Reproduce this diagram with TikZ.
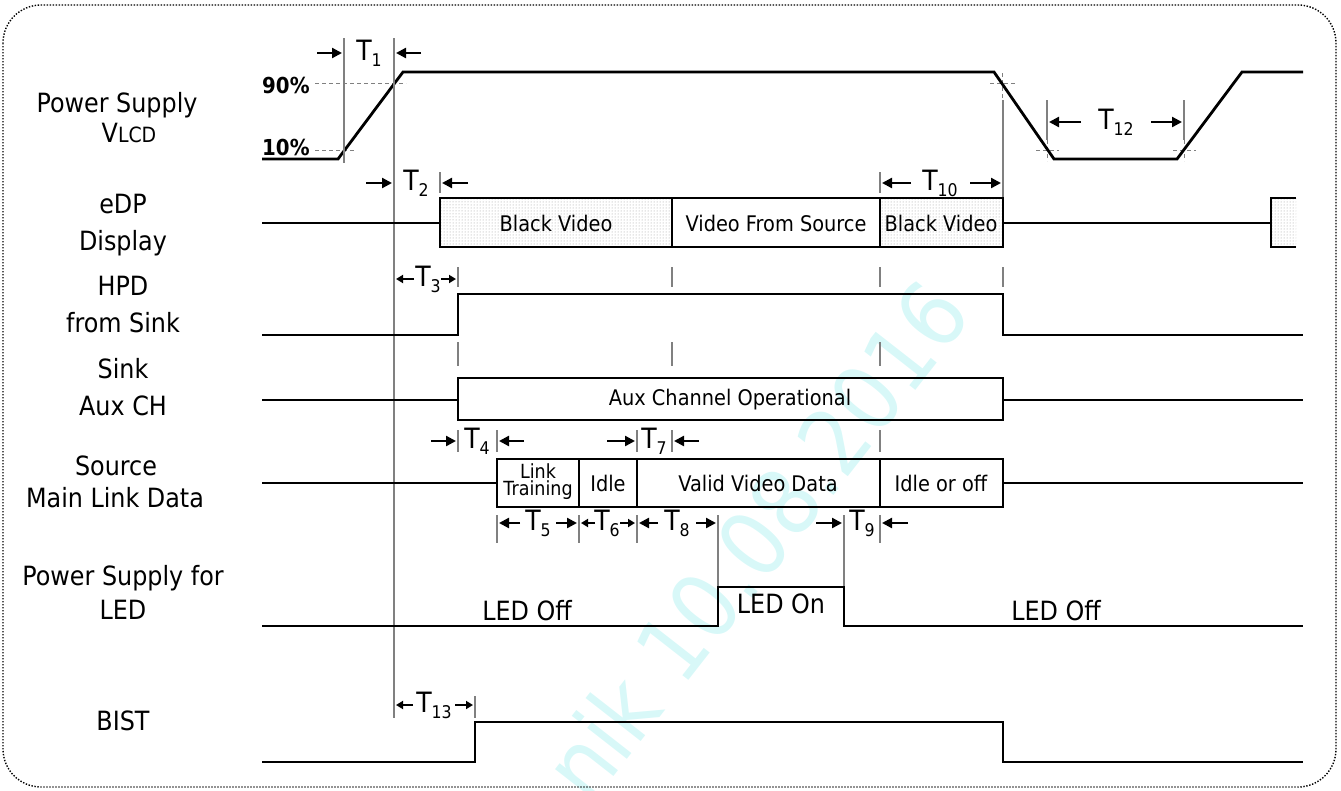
\documentclass[tikz,border=0pt]{standalone}
\usepackage{fontspec}
\setmainfont{DejaVu Sans}[FakeStretch=0.9]
\usetikzlibrary{arrows.meta,patterns}
\definecolor{wmcyan}{RGB}{216,248,248}
\newcommand{\tsub}[1]{T\raisebox{-6pt}{\fontsize{17.5}{17.5}\selectfont #1}}

\begin{document}
\begin{tikzpicture}[x=1pt,y=-1pt,
  sig/.style={line width=2.8pt},
  guide/.style={line width=1.1pt, black!50},
  pct/.style={line width=1pt, black!50, dash pattern=on 4pt off 3pt},
  dimarr/.style={line width=2.3pt, -{Triangle[length=10pt,width=10pt]}},
  minarr/.style={line width=1.9pt, -{Triangle[length=7pt,width=8pt]}},
  lbl/.style={font=\fontsize{26.5}{30}\selectfont, anchor=base},
  boxtxt/.style={font=\fontsize{21.5}{24}\selectfont},
  tlbl/.style={font=\fontsize{28}{30}\selectfont, anchor=base, inner sep=0pt},
  blackvid/.style={pattern=dots, pattern color=black!40}]
  \useasboundingbox (0,0) rectangle (1341,790);

  % Watermark
  \node[rotate=52, text=wmcyan, font=\fontsize{92}{92}\selectfont] (wmark) at (755,540) {nik 10.08.2016};

  % Frame
  \draw[line width=1.4pt, dash pattern=on 1.4pt off 1.6pt, rounded corners=38pt] (3,5) rectangle (1336,787);

  % Signal names
  \node[lbl] (lPs) at (117,112) {Power Supply};
  \node[lbl] (lVlcd) at (129,142) {V{\fontsize{21}{21}\selectfont LCD}};
  \node[lbl] (lEdp) at (123,213) {eDP};
  \node[lbl] (lDisp) at (123,250) {Display};
  \node[lbl] (lHpd) at (123,295) {HPD};
  \node[lbl] (lFrom) at (123,332) {from Sink};
  \node[lbl] (lSink) at (123,378) {Sink};
  \node[lbl] (lAux) at (123,415) {Aux CH};
  \node[lbl] (lSrc) at (116,475) {Source};
  \node[lbl] (lMain) at (115,507) {Main Link Data};
  \node[lbl] (lPsf) at (123,585) {Power Supply for};
  \node[lbl] (lLed) at (123,619) {LED};
  \node[lbl] (lBist) at (123,730) {BIST};

  % Power supply VLCD
  \node[font=\bfseries\fontsize{22}{22}\selectfont, anchor=base west, inner sep=0pt] (p90) at (262,93) {90\%};
  \node[font=\bfseries\fontsize{22}{22}\selectfont, anchor=base west, inner sep=0pt] (p10) at (262,155) {10\%};
  \draw[pct] (315,83) -- (406,83);
  \draw[pct] (315,150) -- (356,150);
  \draw[pct] (990,83) -- (1015,83);
  \draw[pct] (1002,73) -- (1002,100);
  \draw[pct] (1036,150) -- (1059,150);
  \draw[pct] (1047,140) -- (1047,161);
  \draw[pct] (1173,150) -- (1196,150);
  \draw[pct] (1184,140) -- (1184,161);
  \draw[sig] (262,159) -- (338,159) -- (403,72) -- (994,72) -- (1054,159)
    -- (1177,159) -- (1242,72) -- (1303,72);

  % Guide lines
  \draw[guide] (344,38) -- (344,163);
  \draw[guide] (394,38) -- (394,718);
  \draw[guide] (1003,100) -- (1003,198);
  \draw[guide] (1047,100) -- (1047,140);
  \draw[guide] (1184,100) -- (1184,140);
  \foreach \x in {440,880} \draw[guide] (\x,172) -- (\x,193);
  \foreach \x in {458,672,880,1003} \draw[guide] (\x,267) -- (\x,287);
  \foreach \x in {458,672,880} \draw[guide] (\x,342) -- (\x,366);
  \foreach \x in {458,497,637,672,880} \draw[guide] (\x,430) -- (\x,452);
  \foreach \x in {497,579,637,880} \draw[guide] (\x,515) -- (\x,543);
  \draw[guide] (718,515) -- (718,587);
  \draw[guide] (844,515) -- (844,587);
  \draw[guide] (475,696) -- (475,718);

  % eDP display
  \fill[blackvid] (440,198) rectangle (672,247);
  \fill[blackvid] (880,198) rectangle (1003,247);
  \fill[blackvid] (1271,198) rectangle (1296,247);
  \draw[sig] (262,223) -- (440,223);
  \draw[sig] (440,198) rectangle (1003,247);
  \draw[sig] (672,198) -- (672,247);
  \draw[sig] (880,198) -- (880,247);
  \draw[sig] (1003,223) -- (1271,223);
  \draw[sig] (1296,198) -- (1271,198) -- (1271,247) -- (1296,247);
  \node[boxtxt] (bv1) at (556,223) {Black Video};
  \node[boxtxt] (vfs) at (776,223) {Video From Source};
  \node[boxtxt] (bv2) at (941,223) {Black Video};

  % HPD from sink
  \draw[sig] (262,335) -- (458,335) -- (458,294) -- (1003,294) -- (1003,335) -- (1303,335);

  % Sink aux channel
  \draw[sig] (262,400) -- (458,400);
  \draw[sig] (458,378) rectangle (1003,420);
  \draw[sig] (1003,400) -- (1303,400);
  \node[boxtxt] (auxop) at (730,400) {Aux Channel Operational};

  % Source main link data
  \draw[sig] (262,483) -- (497,483);
  \draw[sig] (497,459) rectangle (1003,507);
  \foreach \x in {579,637,880} \draw[sig] (\x,459) -- (\x,507);
  \draw[sig] (1003,483) -- (1303,483);
  \node[align=center, font=\fontsize{19.5}{17}\selectfont] (ltrain) at (538,482) {Link\\Training};
  \node[boxtxt] (idle) at (608,483) {Idle};
  \node[boxtxt] (vvd) at (758,483) {Valid Video Data};
  \node[boxtxt] (idleoff) at (941,483) {Idle or off};

  % Power supply for LED
  \draw[sig] (262,626) -- (718,626) -- (718,587) -- (844,587) -- (844,626) -- (1303,626);
  \node[lbl] (ledoff1) at (527,620) {LED Off};
  \node[lbl] (ledon) at (781,613) {LED On};
  \node[lbl] (ledoff2) at (1056,620) {LED Off};

  % BIST
  \draw[sig] (262,762) -- (475,762) -- (475,722) -- (1003,722) -- (1003,762) -- (1303,762);

  % Timing marks
  \draw[dimarr] (317,53) -- (342,53);
  \draw[dimarr] (421,53) -- (396,53);
  \node[tlbl] (t1) at (369,60) {\tsub{1}};
  \draw[dimarr] (366,183) -- (392,183);
  \draw[dimarr] (468,183) -- (442,183);
  \node[tlbl] (t2) at (416,190) {\tsub{2}};
  \draw[dimarr] (911,183) -- (882,183);
  \draw[dimarr] (970,183) -- (1001,183);
  \node[tlbl] (t10) at (940,190) {\tsub{10}};
  \draw[dimarr] (1081,122) -- (1049,122);
  \draw[dimarr] (1151,122) -- (1182,122);
  \node[tlbl] (t12) at (1116,129) {\tsub{12}};
  \draw[minarr] (414,279) -- (396,279);
  \draw[minarr] (441,279) -- (456,279);
  \node[tlbl] (t3) at (428,286) {\tsub{3}};
  \draw[dimarr] (431,441) -- (456,441);
  \draw[dimarr] (524,441) -- (499,441);
  \node[tlbl] (t4) at (477,448) {\tsub{4}};
  \draw[dimarr] (607,441) -- (635,441);
  \draw[dimarr] (699,441) -- (674,441);
  \node[tlbl] (t7) at (654,448) {\tsub{7}};
  \draw[dimarr] (520,523) -- (499,523);
  \draw[dimarr] (556,523) -- (577,523);
  \node[tlbl] (t5) at (538,530) {\tsub{5}};
  \draw[minarr] (595,523) -- (581,523);
  \draw[minarr] (620,523) -- (635,523);
  \node[tlbl] (t6) at (607,530) {\tsub{6}};
  \draw[dimarr] (658,523) -- (639,523);
  \draw[dimarr] (696,523) -- (716,523);
  \node[tlbl] (t8) at (677,530) {\tsub{8}};
  \draw[dimarr] (816,523) -- (842,523);
  \draw[dimarr] (908,523) -- (882,523);
  \node[tlbl] (t9) at (862,530) {\tsub{9}};
  \draw[minarr] (413,705) -- (396,705);
  \draw[minarr] (455,705) -- (473,705);
  \node[tlbl] (t13) at (434,712) {\tsub{13}};
\end{tikzpicture}
\end{document}
